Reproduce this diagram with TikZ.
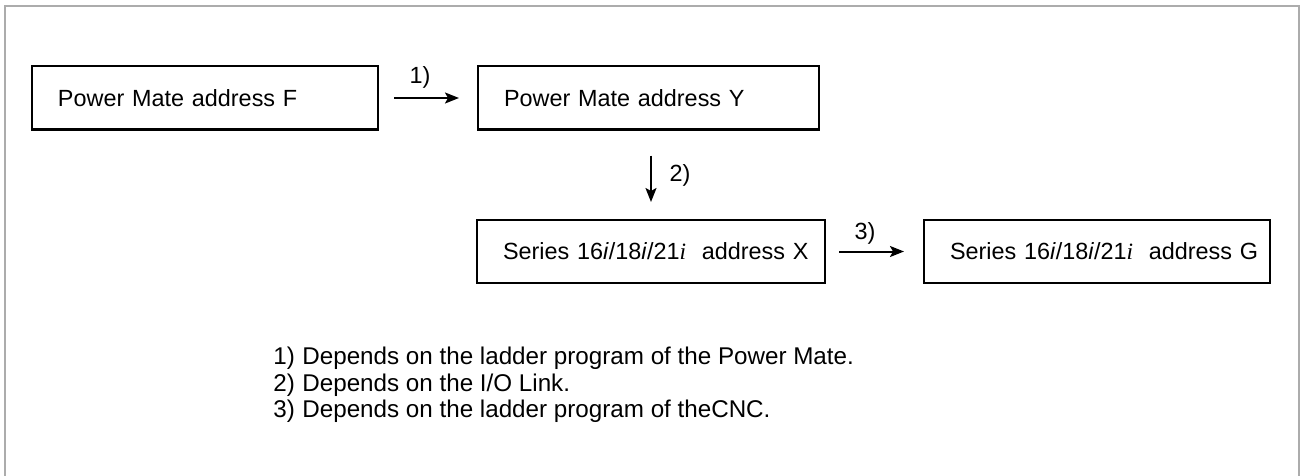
\documentclass[tikz,border=0pt]{standalone}
\usepackage{fontspec}
\setmainfont{Liberation Sans}
\newfontfamily\timesit{Liberation Serif}
\usetikzlibrary{arrows.meta,positioning,calc}

\newcommand{\sixi}{16\textit{i}/18\textit{i}/21{\timesit\itshape i}}

\begin{document}
\begin{tikzpicture}[x=0.5pt,y=-0.5pt,
every node/.style={font=\fontsize{11.7pt}{13pt}\selectfont},
box/.style={draw,line width=1pt,minimum height=31.5pt,anchor=west,align=left,
  inner xsep=0pt,text width=#1,execute at begin node=\hspace*{13pt}},
lbl/.style={inner sep=0pt},
>={Stealth[length=7pt,width=5.5pt,inset=1.5pt]}]
\useasboundingbox (0,0) rectangle (1300,476);
\draw[gray!65,line width=1pt] (5,476)--(5,6)--(1299,6)--(1299,476);
\node[box=173pt] (PF) at (31,98) {Power Mate address F};
\node[box=170.5pt] (PY) at (477,98) {Power Mate address Y};
\node[box=174pt] (SX) at (476,251.5) {Series \sixi\ \ address X};
\node[box=173pt] (SG) at (923,251.5) {Series \sixi\ \ address G};
\draw[->,line width=1pt,shorten <=7.5pt,shorten >=9pt] (PF)--(PY);
\draw[->,line width=1pt,shorten <=12.5pt,shorten >=8.5pt] (SX.north |- PY.south)--(SX.north);
\draw[->,line width=1pt,shorten <=6.5pt,shorten >=9.5pt] (SX)--(SG);
\node[lbl] (L1) at (420,77) {1)};
\node[lbl] (L2) at (680,175) {2)};
\node[lbl] (L3) at (865,233) {3)};
\node[lbl,anchor=west,align=left,font=\fontsize{12.1pt}{13.25pt}\selectfont] (notes) at (273,385)
{\makebox[14.5pt][l]{1)}Depends on the ladder program of the Power Mate.\\
\makebox[14.5pt][l]{2)}Depends on the I/O Link.\\
\makebox[14.5pt][l]{3)}Depends on the ladder program of theCNC.};
\end{tikzpicture}
\end{document}
